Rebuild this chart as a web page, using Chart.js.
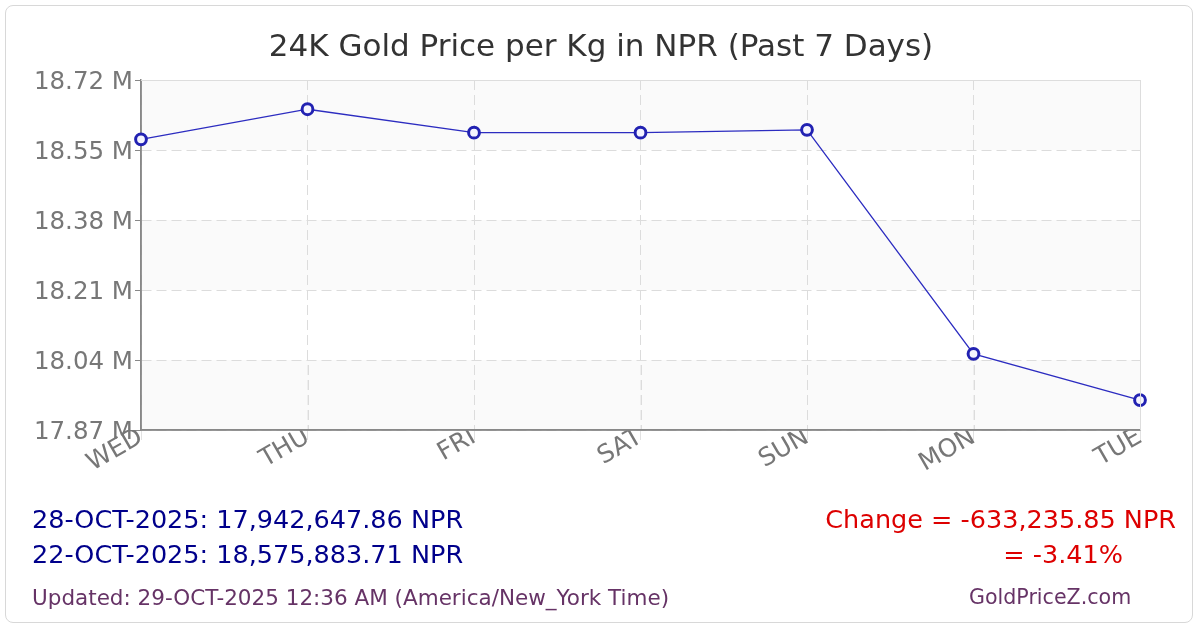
<!DOCTYPE html>
<html>
<head>
<meta charset="utf-8">
<script src="https://cdn.jsdelivr.net/npm/chart.js@4/dist/chart.umd.min.js"></script>
<style>
  html, body { margin: 0; padding: 0; background: #fff; }
  #wrap { position: relative; width: 1200px; height: 630px; }
  #frame { position: absolute; left: 5px; top: 5px; width: 1188px; height: 618px;
           border: 1px solid #d8d8d8; border-radius: 8px; box-sizing: border-box; }
  canvas { position: absolute; left: 0; top: 0; }
</style>
</head>
<body>
<div id="wrap">
  <div id="frame"></div>
  <canvas id="goldChart" width="1200" height="630"></canvas>
</div>
<script>
const days = ['WED', 'THU', 'FRI', 'SAT', 'SUN', 'MON', 'TUE'];
const dates = ['22-OCT-2025', '23-OCT-2025', '24-OCT-2025', '25-OCT-2025', '26-OCT-2025', '27-OCT-2025', '28-OCT-2025'];
const prices = [18575883.71, 18649000, 18592000, 18592000, 18599000, 18055000, 17942647.86];
const yMin = 17870000;
const yMax = 18720000;
const yStep = 170000;
const chartTitle = '24K Gold Price per Kg in NPR (Past 7 Days)';
const updatedText = 'Updated: 29-OCT-2025 12:36 AM (America/New_York Time)';
const siteText = 'GoldPriceZ.com';

const FONT = '"DejaVu Sans", Verdana, sans-serif';
const GRID = '#dcdcdc';
const AXIS = '#888888';
const DASH = [10, 5];

function fmt(n) {
    return n.toLocaleString('en-US', { minimumFractionDigits: 2, maximumFractionDigits: 2 });
}

// alternating bands, the lowest one laid over the day labels like the original
const bands = {
    id: 'bands',
    beforeDraw(chart) {
        const { ctx, chartArea: a, scales: { y } } = chart;
        const ticks = y.ticks;
        ctx.save();
        ctx.fillStyle = '#fafafa';
        for (let i = 0; i < ticks.length - 1; i += 2) {
            const y1 = y.getPixelForValue(ticks[i].value);
            const y2 = y.getPixelForValue(ticks[i + 1].value);
            ctx.fillRect(a.left, y2, a.right - a.left, y1 - y2);
        }
        ctx.restore();
    },
    beforeDatasetsDraw(chart) {
        const { ctx, chartArea: a, scales: { x, y } } = chart;
        const top = y.getPixelForValue(y.ticks[1].value) + 1;
        const bottom = a.bottom - 1;
        ctx.save();
        ctx.beginPath();
        ctx.rect(a.left + 1, top, a.right - a.left - 1, bottom - top);
        ctx.clip();
        ctx.fillStyle = 'rgba(250,250,250,0.6)';
        ctx.fillRect(a.left, top, a.right - a.left, bottom - top);
        ctx.strokeStyle = GRID;
        ctx.lineWidth = 1;
        ctx.setLineDash(DASH);
        for (let i = 0; i < days.length; i++) {
            const px = Math.round(x.getPixelForTick(i)) + 0.5;
            ctx.beginPath();
            ctx.moveTo(px, a.top);
            ctx.lineTo(px, a.bottom);
            ctx.stroke();
        }
        ctx.restore();
        // axis lines over the labels
        ctx.save();
        ctx.strokeStyle = AXIS;
        ctx.lineWidth = 1.5;
        ctx.beginPath();
        ctx.moveTo(a.left, a.top);
        ctx.lineTo(a.left, a.bottom);
        ctx.lineTo(a.right, a.bottom);
        ctx.stroke();
        ctx.restore();
    },
    afterDatasetsDraw(chart) {
        const { ctx, chartArea: a } = chart;
        ctx.save();
        ctx.strokeStyle = '#dddddd';
        ctx.lineWidth = 1;
        ctx.beginPath();
        ctx.moveTo(a.left, a.top + 0.5);
        ctx.lineTo(a.right + 0.5, a.top + 0.5);
        ctx.lineTo(a.right + 0.5, a.bottom);
        ctx.stroke();
        ctx.restore();
    }
};

// title and summary text
const texts = {
    id: 'texts',
    afterDraw(chart) {
        const ctx = chart.ctx;
        const last = prices[prices.length - 1];
        const first = prices[0];
        const change = last - first;
        const pct = change / first * 100;
        ctx.save();
        ctx.textBaseline = 'middle';
        ctx.textAlign = 'center';
        ctx.font = '31px ' + FONT;
        ctx.fillStyle = '#333333';
        ctx.fillText(chartTitle, 601, 48);

        ctx.font = '25.5px ' + FONT;
        ctx.fillStyle = '#00008b';
        ctx.textAlign = 'left';
        ctx.fillText(dates[dates.length - 1] + ': ' + fmt(last) + ' NPR', 32, 521);
        ctx.fillText(dates[0] + ': ' + fmt(first) + ' NPR', 32, 556);
        ctx.fillStyle = '#dd0000';
        ctx.textAlign = 'right';
        ctx.fillText('Change = ' + fmt(change) + ' NPR', 1176, 521);
        ctx.fillText('= ' + pct.toFixed(2) + '%', 1123, 556);
        ctx.fillStyle = '#663366';
        ctx.textAlign = 'left';
        ctx.font = '21.5px ' + FONT;
        ctx.fillText(updatedText, 32, 599);
        ctx.font = '20.6px ' + FONT;
        ctx.fillText(siteText, 969, 599);
        ctx.restore();
    }
};

const ctx = document.getElementById('goldChart').getContext('2d');
new Chart(ctx, {
    type: 'line',
    data: {
        labels: days,
        datasets: [{
            data: prices,
            borderColor: '#2c2cc0',
            borderWidth: 1.3,
            pointRadius: 5.4,
            pointBorderWidth: 3,
            pointBorderColor: '#2222b2',
            pointBackgroundColor: '#f4f4ff',
            tension: 0
        }]
    },
    options: {
        responsive: false,
        animation: false,
        layout: { padding: { left: 0, right: 60, top: 80, bottom: 0 } },
        plugins: {
            legend: { display: false },
            tooltip: { enabled: false },
            title: { display: false }
        },
        scales: {
            x: {
                offset: false,
                afterFit(scale) { scale.height = 200; },
                border: { display: true, color: AXIS, width: 1.5, dash: DASH },
                grid: {
                    color: GRID,
                    tickLength: 10,
                    tickColor: '#e2e2e2',
                    tickBorderDash: []
                },
                ticks: {
                    color: '#777777',
                    font: { family: FONT, size: 25, lineHeight: 0.05 },
                    minRotation: 30,
                    maxRotation: 30,
                    padding: -5,
                    autoSkip: false
                }
            },
            y: {
                min: yMin,
                max: yMax,
                afterFit(scale) { scale.width = 141; },
                border: { display: true, color: AXIS, width: 1.5, dash: DASH },
                grid: {
                    color: GRID,
                    tickLength: 6,
                    tickColor: AXIS,
                    tickBorderDash: []
                },
                ticks: {
                    stepSize: yStep,
                    color: '#777777',
                    font: { family: FONT, size: 24.5 },
                    padding: 2,
                    labelOffset: 3,
                    callback: v => (v / 1e6).toFixed(2) + ' M'
                }
            }
        }
    },
    plugins: [bands, texts]
});
</script>
</body>
</html>
